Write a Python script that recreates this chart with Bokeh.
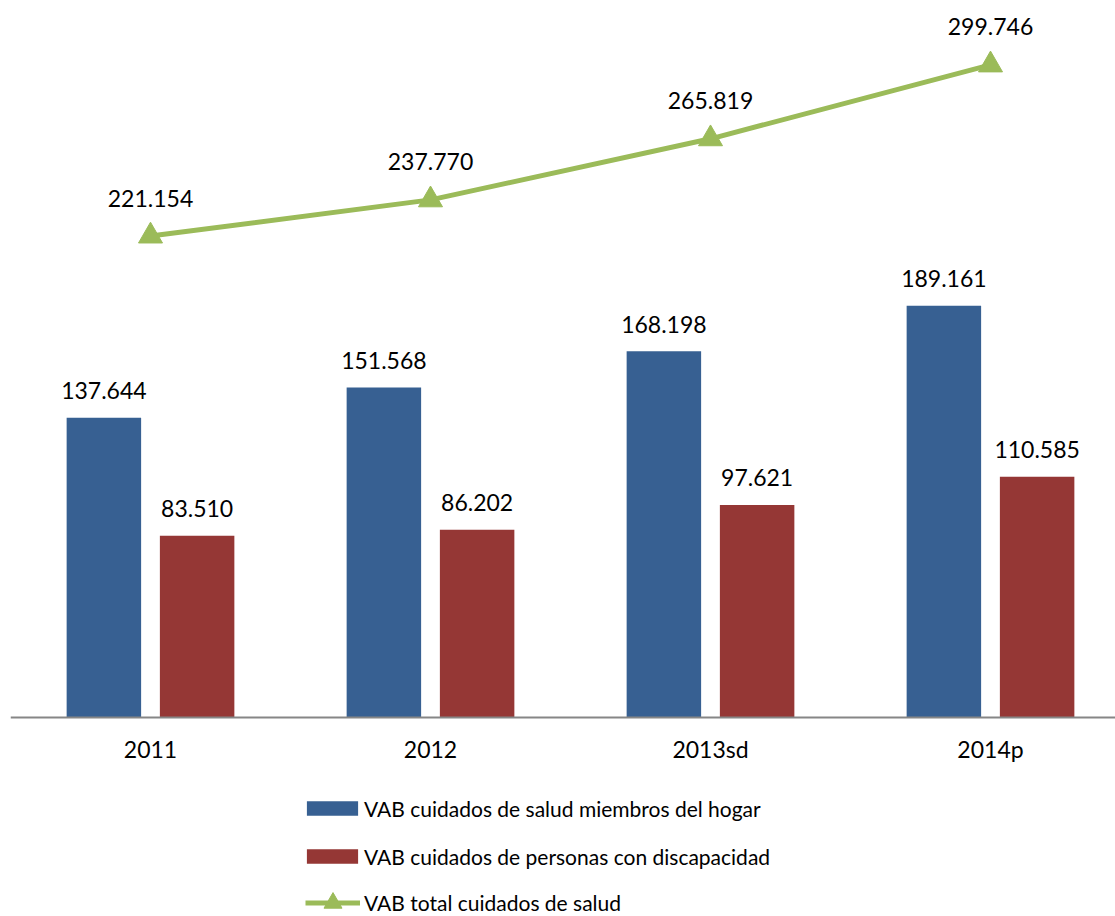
from bokeh.plotting import figure
from bokeh.models import Range1d, FixedTicker, Legend, LegendItem, ColumnDataSource
from bokeh.core.properties import value
from bokeh.embed import file_html
from bokeh.resources import INLINE

categories = ["2011", "2012", "2013sd", "2014p"]
hogar = [137.644, 151.568, 168.198, 189.161]
discapacidad = [83.510, 86.202, 97.621, 110.585]
total = [221.154, 237.770, 265.819, 299.746]

series_names = [
    "VAB cuidados de salud miembros del hogar",
    "VAB cuidados de personas con discapacidad",
    "VAB total cuidados de salud",
]

BLUE = "#376092"
RED = "#953735"
GREEN = "#9BBB59"
FONT = "Lato"
FS = "23px"
LFS = "21px"

xs = [i + 0.5 for i in range(len(categories))]
off = 0.1665
bw = 0.266

def fmt(v):
    return f"{v:.3f}"

src = ColumnDataSource(dict(
    x=xs,
    xb=[x - off for x in xs],
    xr=[x + off for x in xs],
    hogar=hogar, disc=discapacidad, total=total,
    lh=[fmt(v) for v in hogar],
    ld=[fmt(v) for v in discapacidad],
    lt=[fmt(v) for v in total],
))

W, H = 1115, 916
LEFT = 10
scale = 2.177  # px per unit
base_px = 717  # from top of figure
p = figure(width=W, height=H, output_backend="svg", toolbar_location=None,
           x_range=Range1d(0, (W - LEFT) / 280.0),
           y_range=Range1d(-(H - base_px) / scale, base_px / scale),
           min_border_left=LEFT, min_border_right=0, min_border_top=0, min_border_bottom=0)
p.outline_line_color = None
p.grid.visible = False
p.yaxis.visible = False
p.background_fill_color = "white"

xa = p.xaxis[0]
xa.fixed_location = 0
xa.ticker = FixedTicker(ticks=xs)
xa.major_label_overrides = {x: c for x, c in zip(xs, categories)}
xa.axis_line_color = "#868686"
xa.axis_line_width = 2
xa.major_tick_line_color = None
xa.minor_tick_line_color = None
xa.major_label_text_font = FONT
xa.major_label_text_font_size = FS
xa.major_label_text_color = "black"
xa.major_label_standoff = 11

rb = p.vbar(x="xb", top="hogar", width=bw, source=src, fill_color=BLUE, line_color=None)
rr = p.vbar(x="xr", top="disc", width=bw, source=src, fill_color=RED, line_color=None)
rl = p.line(x="x", y="total", source=src, line_color=GREEN, line_width=5)
rm = p.scatter(x="x", y="total", source=src, marker="triangle", size=24,
               fill_color=GREEN, line_color=GREEN)

common = dict(text_font=value(FONT), text_font_size=FS, text_color="black",
              text_align="center", text_baseline="middle")
p.text(x="xb", y="hogar", text="lh", source=src, y_offset=-27, **common)
p.text(x="xr", y="disc", text="ld", source=src, y_offset=-27, **common)
p.text(x="x", y="total", text="lt", source=src, y_offset=-38, **common)


def style_legend(lg, gw, gh, lh, spacing, standoff):
    lg.border_line_color = None
    lg.background_fill_alpha = 0
    lg.label_text_font = FONT
    lg.label_text_font_size = LFS
    lg.label_text_color = "black"
    lg.glyph_width = gw
    lg.glyph_height = gh
    lg.label_standoff = standoff
    lg.spacing = spacing
    lg.padding = 0
    lg.margin = 0
    lg.label_height = lh


legend_bars = Legend(items=[
    LegendItem(label=series_names[0], renderers=[rb]),
    LegendItem(label=series_names[1], renderers=[rr]),
], location=(290, 47), orientation="vertical")
style_legend(legend_bars, 64, 18, 26, 22, 0)
p.add_layout(legend_bars)

legend_line = Legend(items=[
    LegendItem(label=series_names[2], renderers=[rl, rm]),
], location=(295, -9), orientation="vertical")
style_legend(legend_line, 55, 45, 26, 0, 4)
p.add_layout(legend_line)

open("out.html", "w").write(file_html(p, INLINE))
